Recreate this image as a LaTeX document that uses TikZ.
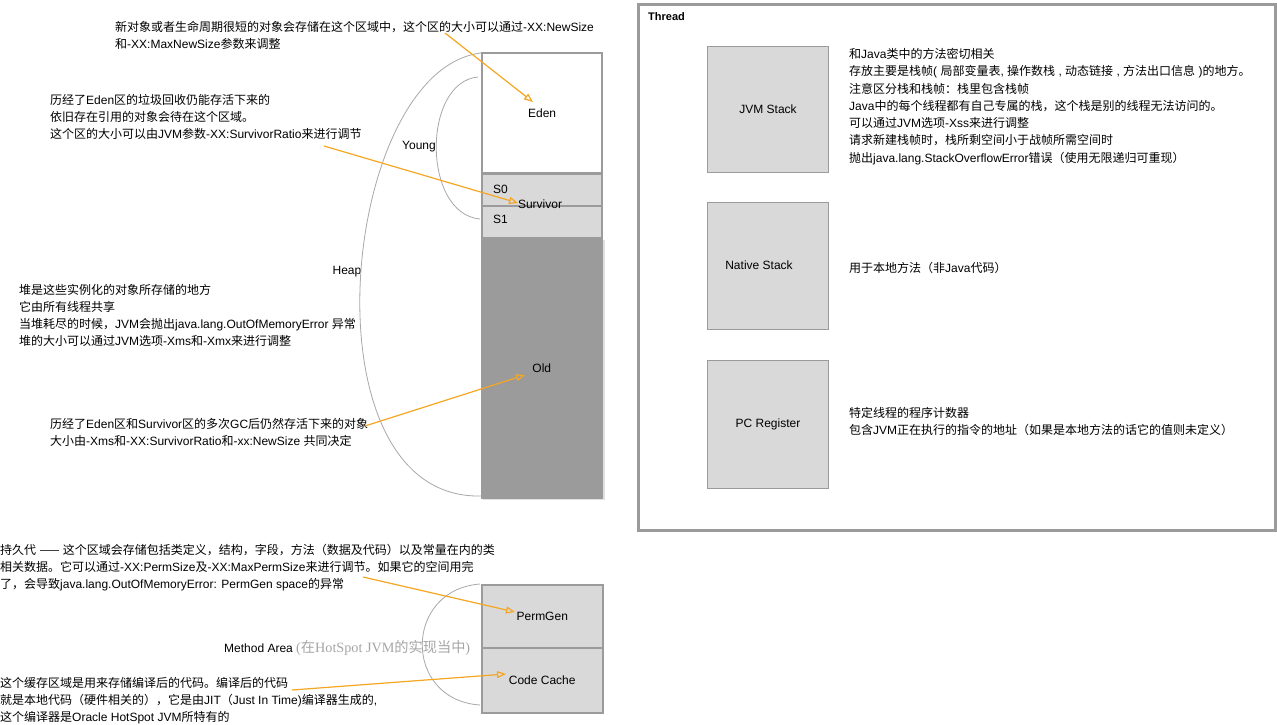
\documentclass[tikz,border=0pt]{standalone}
\usepackage{fontspec}
\setmainfont{Liberation Sans}
\newfontfamily\cjkf{Noto Sans CJK SC}
\newfontfamily\serf{Liberation Serif}
\usetikzlibrary{arrows.meta}
\XeTeXinterchartokenstate=1
\newXeTeXintercharclass\CJKc
\newcount\tmpc
\tmpc="3000 \loop\ifnum\tmpc<"A000 \XeTeXcharclass\tmpc=\CJKc \advance\tmpc by 1 \repeat
\tmpc="FF00 \loop\ifnum\tmpc<"FFF0 \XeTeXcharclass\tmpc=\CJKc \advance\tmpc by 1 \repeat
\XeTeXcharclass"2014=\CJKc
\XeTeXinterchartoks 0 \CJKc={\begingroup\cjkf}
\XeTeXinterchartoks 4095 \CJKc={\begingroup\cjkf}
\XeTeXinterchartoks \CJKc 0={\endgroup}
\XeTeXinterchartoks \CJKc 4095={\endgroup}
\definecolor{boxfill}{HTML}{D9D9D9}
\definecolor{boxborder}{HTML}{9B9B9B}
\definecolor{oldfill}{HTML}{9B9B9B}
\definecolor{curvegray}{HTML}{A8A8A8}
\definecolor{callorange}{HTML}{F5A623}
\tikzset{
  note/.style={anchor=north west, inner sep=0pt, align=left, font=\fontsize{12}{17}\selectfont},
  tnote/.style={anchor=north west, inner sep=0pt, align=left, font=\fontsize{12}{17.3}\selectfont},
  lbl/.style={inner sep=0pt, font=\fontsize{12}{14}\selectfont},
  lightbox/.style={draw=boxborder, fill=boxfill, line width=1.5pt, inner sep=0pt, anchor=north west, font=\fontsize{12}{14}\selectfont},
  curveline/.style={draw=curvegray, line width=0.8pt},
  callout/.style={draw=callorange, line width=1.2pt, -{Triangle[open,length=9pt,width=7pt]}}
}
\begin{document}
\begin{tikzpicture}[x=1pt,y=-1pt]
\useasboundingbox (0,0) rectangle (1277,725);
\fill[white] (0,0) rectangle (1277,725);
% heap column
\node[draw=boxborder, fill=white, line width=2.2pt, inner sep=0pt, anchor=north west, minimum width=120pt, minimum height=120pt, font=\fontsize{12}{14}\selectfont] (eden) at (481,52) {Eden};
\node[lightbox, minimum width=120pt, minimum height=32pt] (s0) at (481,173) {};
\node[lightbox, minimum width=120pt, minimum height=32pt] (s1) at (481,205) {};
\fill[black!12] (483,240) rectangle (605,500);
\fill[black!20] (482,239) rectangle (603,498);
\node[draw=boxborder, fill=oldfill, line width=1.5pt, inner sep=0pt, anchor=north west, minimum width=120pt, minimum height=260pt, font=\fontsize{12}{14}\selectfont] (old) at (481,237) {Old};
\node[lbl, anchor=west] (s0l) at (493,189) {S0};
\node[lbl, anchor=west] (s1l) at (493,219) {S1};
\node[lbl] (survl) at (540,204) {Survivor};
\node[lbl] (youngl) at (419,147) {Young};
\node[lbl] (heapl) at (347,272) {Heap};
% curves
\coordinate (heaptop) at (481,53);
\coordinate (heapbot) at (481,496);
\draw[curveline] (heaptop) .. controls (340,70) and (300,500) .. (heapbot);
\coordinate (youngtop) at (478,77);
\coordinate (youngbot) at (480,219);
\draw[curveline] (youngtop) .. controls (422,82) and (422,214) .. (youngbot);
% method area
\node[lightbox, minimum width=121pt, minimum height=63pt] (perm) at (481,584) {PermGen};
\node[lightbox, minimum width=121pt, minimum height=65pt] (code) at (481,647) {Code Cache};
\coordinate (matop) at (480,584);
\coordinate (mabot) at (480,705);
\draw[curveline] (matop) .. controls (403,590) and (403,700) .. (mabot);
\node[lbl, anchor=west] (mal) at (224,648) {Method Area {\color{gray!70}\serf\fontsize{14.2}{16}\selectfont (在HotSpot JVM的实现当中)}};
% notes
\node[note] (n1) at (115,21) {新对象或者生命周期很短的对象会存储在这个区域中，这个区的大小可以通过-XX:NewSize\\和-XX:MaxNewSize参数来调整};
\node[note] (n2) at (50,94) {历经了Eden区的垃圾回收仍能存活下来的\\依旧存在引用的对象会待在这个区域。\\这个区的大小可以由JVM参数-XX:SurvivorRatio来进行调节};
\node[note] (n3) at (19,284) {堆是这些实例化的对象所存储的地方\\它由所有线程共享\\当堆耗尽的时候，JVM会抛出java.lang.OutOfMemoryError 异常\\堆的大小可以通过JVM选项-Xms和-Xmx来进行调整};
\node[note] (n4) at (50,418) {历经了Eden区和Survivor区的多次GC后仍然存活下来的对象\\大小由-Xms和-XX:SurvivorRatio和-xx:NewSize 共同决定};
\node[note] (n5) at (0,544) {持久代 —— 这个区域会存储包括类定义，结构，字段，方法（数据及代码）以及常量在内的类\\相关数据。它可以通过-XX:PermSize及-XX:MaxPermSize来进行调节。如果它的空间用完\\了，会导致java.lang.OutOfMemoryError: PermGen space的异常};
\node[note] (n6) at (0,677) {这个缓存区域是用来存储编译后的代码。编译后的代码\\就是本地代码（硬件相关的），它是由JIT（Just In Time)编译器生成的,\\这个编译器是Oracle HotSpot JVM所特有的};
% callouts
\coordinate (c1a) at (445,33); \coordinate (c1b) at (533,102);
\coordinate (c2a) at (324,146); \coordinate (c2b) at (518,203);
\coordinate (c3a) at (365,426); \coordinate (c3b) at (525,375);
\coordinate (c4a) at (363,577); \coordinate (c4b) at (515,612);
\coordinate (c5a) at (292,690); \coordinate (c5b) at (506,674);
\draw[callout] (c1a) -- (c1b);
\draw[callout] (c2a) -- (c2b);
\draw[callout] (c3a) -- (c3b);
\draw[callout] (c4a) -- (c4b);
\draw[callout] (c5a) -- (c5b);
% thread
\node[draw=boxborder, line width=3pt, inner sep=0pt, anchor=north west, minimum width=637pt, minimum height=526pt] (thread) at (637,3) {};
\node[inner sep=0pt, anchor=west, font=\fontsize{11}{13}\selectfont\bfseries] (threadl) at (648,17) {Thread};
\node[lightbox, line width=1pt, minimum width=121pt, minimum height=126pt] (jvms) at (707,46) {JVM Stack};
\node[lightbox, line width=1pt, minimum width=121pt, minimum height=127pt] (nats) at (707,202) {};
\node[lbl] (natsl) at (759,265) {Native Stack};
\node[lightbox, line width=1pt, minimum width=121pt, minimum height=128pt] (pcr) at (707,360) {PC Register};
\node[tnote] (t1) at (849,48) {和Java类中的方法密切相关\\存放主要是栈帧( 局部变量表, 操作数栈 , 动态链接 , 方法出口信息 )的地方。\\注意区分栈和栈帧：栈里包含栈帧\\Java中的每个线程都有自己专属的栈，这个栈是别的线程无法访问的。\\可以通过JVM选项-Xss来进行调整\\请求新建栈帧时，栈所剩空间小于战帧所需空间时\\抛出java.lang.StackOverflowError错误（使用无限递归可重现）};
\node[note] (t2) at (849,262) {用于本地方法（非Java代码）};
\node[note] (t3) at (849,407) {特定线程的程序计数器\\包含JVM正在执行的指令的地址（如果是本地方法的话它的值则未定义）};
\end{tikzpicture}
\end{document}
